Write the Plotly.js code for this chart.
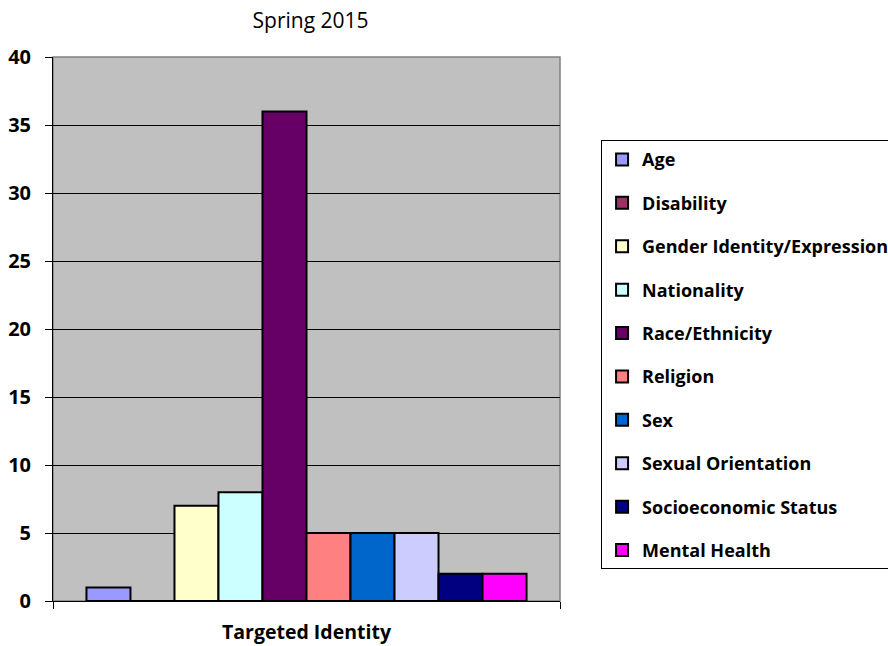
<!DOCTYPE html>
<html>
<head>
<meta charset="utf-8">
<script src="https://cdn.plot.ly/plotly-3.0.1.min.js"></script>
<style>html,body{margin:0;padding:0;background:#fff;}#chart{width:888px;height:646px;}</style>
</head>
<body>
<div id="chart"></div>
<script>
const category = ["Targeted Identity"];
const seriesNames = ["Age","Disability","Gender Identity/Expression","Nationality","Race/Ethnicity","Religion","Sex","Sexual Orientation","Socioeconomic Status","Mental Health"];
const seriesValues = [1,0,7,8,36,5,5,5,2,2];
const seriesColors = ["#9999FF","#993366","#FFFFCC","#CCFFFF","#660066","#FF8080","#0066CC","#CCCCFF","#000080","#FF00FF"];
const yTicks = [0,5,10,15,20,25,30,35,40];

const font = "Open Sans, Noto Sans, sans-serif";
const traces = seriesNames.map((n,i)=>({
  type:"bar", name:n, x:category, y:[seriesValues[i]],
  marker:{color:seriesColors[i], line:{color:"#000", width:2}},
  legendgroup:"g"+i, hoverinfo:"name+y"
}));

const layout = {
  width:888, height:646,
  margin:{l:53, r:328, t:57, b:45, autoexpand:false},
  paper_bgcolor:"#fff", plot_bgcolor:"#C0C0C0",
  title:{text:"Spring 2015", font:{family:font, size:21, color:"#000"}, x:0.3497, xanchor:"center", y:0.968, yanchor:"middle"},
  barmode:"group", bargap:0.132, bargroupgap:0,
  xaxis:{type:"category", showgrid:false, showline:true, linecolor:"#000", linewidth:1,
    ticks:"outside", tickson:"boundaries", ticklen:7, tickcolor:"#000",
    tickfont:{family:font, size:19.5, color:"#000", weight:"bold"}, ticklabelstandoff:14, zeroline:false},
  yaxis:{range:[0,40], tickvals:yTicks, showgrid:true, gridcolor:"#000", gridwidth:1,
    showline:true, linecolor:"#000", linewidth:1, ticks:"outside", ticklen:7, tickcolor:"#000",
    tickfont:{family:font, size:20, color:"#000", weight:"bold"}, ticklabelstandoff:10, zeroline:false, fixedrange:true},
  legend:{x:1.081, xanchor:"left", y:0.847, yanchor:"top", bordercolor:"#000", borderwidth:1,
    bgcolor:"#fff", font:{family:font, size:18, color:"#000", weight:"bold"},
    traceorder:"grouped", tracegroupgap:17},
  shapes:[{type:"rect", xref:"paper", yref:"paper", x0:0, x1:1, y0:0, y1:1, line:{color:"#808080", width:1.5}, layer:"below"}],
  showlegend:true
};
Plotly.newPlot("chart", traces, layout, {displayModeBar:false, staticPlot:true});
</script>
</body>
</html>
